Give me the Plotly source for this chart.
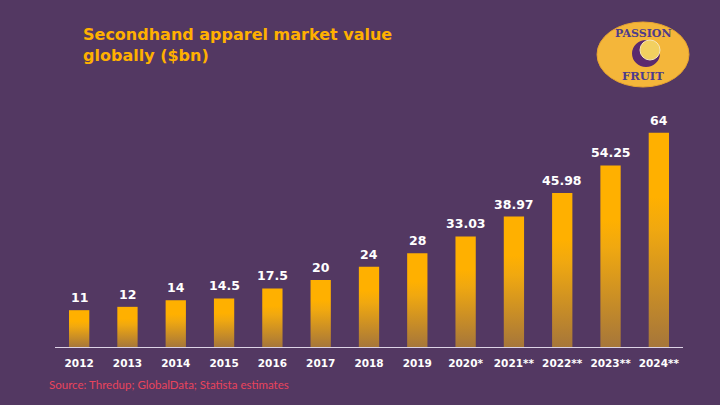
import plotly.graph_objects as go

years = ["2012", "2013", "2014", "2015", "2016", "2017", "2018", "2019",
         "2020*", "2021**", "2022**", "2023**", "2024**"]
values = [11, 12, 14, 14.5, 17.5, 20, 24, 28, 33.03, 38.97, 45.98, 54.25, 64]
labels = ["11", "12", "14", "14.5", "17.5", "20", "24", "28",
          "33.03", "38.97", "45.98", "54.25", "64"]

bg = "#533862"
orange = "#FFB000"
half = 0.21

fig = go.Figure()

# one filled shape per bar so each gets its own vertical gradient
for i, v in enumerate(values):
    fig.add_trace(go.Scatter(
        x=[i - half, i - half, i + half, i + half, i - half],
        y=[0, v, v, 0, 0],
        mode="lines", fill="toself", line=dict(width=0),
        fillgradient=dict(type="vertical",
                          colorscale=[[0, "#A6763A"], [0.55, "#F0A810"], [0.7, orange], [1, orange]]),
        hoverinfo="skip", showlegend=False,
    ))
    fig.add_annotation(x=i, y=v, text=labels[i], showarrow=False,
                       xanchor="center", yanchor="bottom", yshift=3,
                       font=dict(family="DejaVu Sans", size=12.5, color="white", weight=700))

fig.update_layout(
    width=720, height=405,
    paper_bgcolor=bg, plot_bgcolor=bg,
    margin=dict(l=55, r=37, t=96, b=58),
    xaxis=dict(range=[-0.5, 12.5], tickvals=list(range(len(years))), ticktext=years,
               showgrid=False, zeroline=False, showline=True, linecolor="#DDD3E6", linewidth=1,
               ticks="", ticklabelstandoff=6,
               tickfont=dict(family="DejaVu Sans", size=10.5, color="white", weight=700),
               fixedrange=True),
    yaxis=dict(range=[0, 75], visible=False, fixedrange=True),
    font=dict(family="Lato"),
)


def px(xp):
    return (xp - 55) / 628


def py(yp):
    return (347 - yp) / 251


fig.add_annotation(
    xref="paper", yref="paper", x=px(81), y=py(23),
    xanchor="left", yanchor="top", align="left", showarrow=False,
    text="Secondhand apparel market value<br>globally ($bn)",
    font=dict(family="DejaVu Sans", size=16, color=orange, weight=700),
)

fig.add_annotation(
    xref="paper", yref="paper", x=px(47), y=py(376),
    xanchor="left", yanchor="top", showarrow=False,
    text="Source: Thredup; GlobalData; Statista estimates",
    font=dict(family="Lato", size=11.5, color="#E9445C"),
)

# logo badge
fig.add_shape(type="circle", xref="paper", yref="paper", layer="below",
              x0=px(597), x1=px(689), y0=py(87), y1=py(22),
              fillcolor="#F4B63A", line=dict(color="#E8A430", width=1))
fig.add_shape(type="circle", xref="paper", yref="paper", layer="below",
              x0=px(632), x1=px(660), y0=py(67), y1=py(40),
              fillcolor="#5B2A6E", line=dict(width=0))
fig.add_shape(type="circle", xref="paper", yref="paper", layer="below",
              x0=px(640), x1=px(660), y0=py(60), y1=py(40),
              fillcolor="#F2D060", line=dict(color="#F6E7B8", width=1))
fig.add_annotation(xref="paper", yref="paper", x=px(643), y=py(33), showarrow=False,
                   xanchor="center", yanchor="middle", text="PASSION",
                   font=dict(family="DejaVu Serif", size=11, color="#4D3C8C", weight=700))
fig.add_annotation(xref="paper", yref="paper", x=px(643), y=py(76), showarrow=False,
                   xanchor="center", yanchor="middle", text="FRUIT",
                   font=dict(family="DejaVu Serif", size=11.5, color="#4D3C8C", weight=700))

fig.write_html("out.html", config={"displayModeBar": False},
               post_script="document.body.style.margin='0';")
